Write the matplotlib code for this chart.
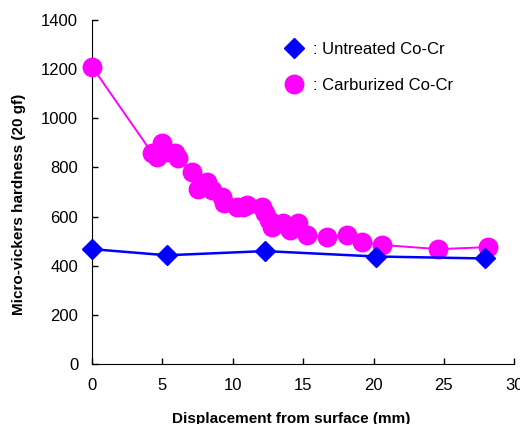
import matplotlib
matplotlib.use("Agg")
import matplotlib.pyplot as plt

# carburized Co-Cr
carb_x = [0.0, 4.25, 4.6, 4.95, 5.3, 5.9, 6.1, 7.1, 7.5, 8.2, 8.5, 9.2, 9.4,
          10.3, 10.7, 11.0, 12.1, 12.3, 12.6, 12.8, 13.6, 14.1, 14.6, 15.3,
          16.7, 18.1, 19.2, 20.6, 24.6, 28.1]
carb_y = [1210, 860, 844, 900, 864, 860, 840, 783, 714, 741, 708, 680, 655,
          639, 639, 647, 639, 615, 586, 558, 574, 546, 574, 525,
          517, 525, 497, 485, 468, 476]

# untreated Co-Cr
untr_x = [0.0, 5.3, 12.3, 20.2, 27.9]
untr_y = [468, 443, 460, 438, 430]

labels = [": Untreated Co-Cr", ": Carburized Co-Cr"]

plt.rcParams["font.family"] = ["Liberation Sans", "DejaVu Sans"]

fig = plt.figure(figsize=(5.2, 4.24), dpi=100)
ax = fig.add_axes([0.177, 0.141, 0.812, 0.812])

ax.plot(carb_x, carb_y, color="#ff00ff", lw=1.4, marker="o", ms=13.3,
        mec="#ff00ff", mfc="#ff00ff", clip_on=False, zorder=3, label=labels[1])
ax.plot(untr_x, untr_y, color="#0000ff", lw=1.8, marker="D", ms=10.3,
        mec="#0000ff", mfc="#0000ff", clip_on=False, zorder=4, label=labels[0])

ax.set_xlim(0, 30)
ax.set_ylim(0, 1400)
ax.set_xticks(range(0, 31, 5))
ax.set_yticks(range(0, 1401, 200))
ax.spines["top"].set_visible(False)
ax.spines["right"].set_visible(False)
ax.tick_params(direction="in", length=4, width=1, labelsize=12, pad=10)

ax.set_xlabel("Displacement from surface (mm)", fontsize=11, fontweight="bold",
              va="top")
ax.xaxis.set_label_coords(0.471, -0.139)
ax.set_ylabel("Micro-vickers hardness (20 gf)", fontsize=11, fontweight="bold")
ax.yaxis.set_label_coords(-0.157, 0.463)

h, l = ax.get_legend_handles_labels()
ax.legend(h[::-1], l[::-1], loc="upper left", bbox_to_anchor=(0.415, 0.98),
          frameon=False, fontsize=12, handletextpad=0.45, labelspacing=1.25,
          handlelength=1.4)
for line in ax.get_legend().get_lines():
    line.set_linestyle("none")

fig.savefig("out.png", dpi=100)
